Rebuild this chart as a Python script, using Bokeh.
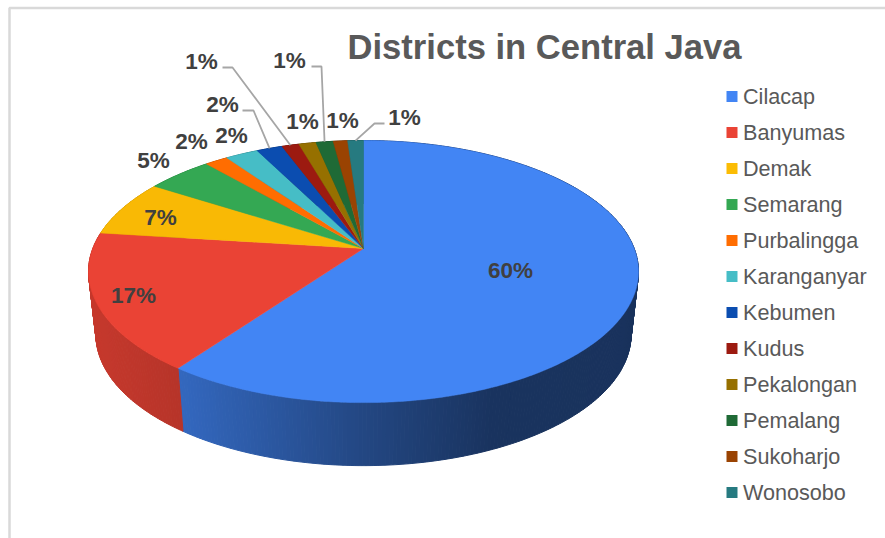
import numpy as np
from bokeh.core.properties import value
from bokeh.embed import file_html
from bokeh.models import Range1d
from bokeh.plotting import figure
from bokeh.resources import INLINE

TITLE = "Districts in Central Java"
districts = ["Cilacap", "Banyumas", "Demak", "Semarang", "Purbalingga", "Karanganyar",
             "Kebumen", "Kudus", "Pekalongan", "Pemalang", "Sukoharjo", "Wonosobo"]
shares = [60, 17, 7, 4.6, 1.6, 2.3, 1.8, 1.2, 1.2, 1.2, 1.0, 1.1]
colors = ["#4285f4", "#ea4335", "#f9b905", "#34a853", "#ff6d01", "#46bdc6",
          "#0b4db0", "#9c1a10", "#967000", "#1f6a36", "#9a4302", "#267a80"]
legend_colors = ["#4285f4", "#ea4335", "#fbbc04", "#34a853", "#ff6d01", "#46bdc6",
                 "#0b4db0", "#9c1a10", "#967000", "#1f6a36", "#9a4302", "#267a80"]

# Projection of the tilted disc: perspective foreshortening pulls the hub above the ellipse centre.
CX, HUB_Y, A, B, K = 363.0, 248.0, 270.7, 127.0, 0.176
DEPTH, WALL_SX = 63.0, 0.973
FONT = value("Liberation Sans")


def project(theta, radius=1.0, sx=1.0, dy=0.0):
    """Map a clockwise-from-north disc angle to page pixels."""
    u, v = radius * np.sin(theta), radius * np.cos(theta)
    w = 1 + K * v
    return CX + sx * A * u / w, HUB_Y + dy - B * v / w


def shade(color, x):
    """Darken a slice colour for its side wall according to horizontal position."""
    f = np.interp(x, [90, 183, 360, 490, 640], [0.85, 0.78, 0.54, 0.39, 0.38])
    rgb = [int(color[i:i + 2], 16) for i in (1, 3, 5)]
    return "#%02x%02x%02x" % tuple(int(c * f) for c in rgb)


fractions = np.array(shares) / sum(shares)
edges = np.concatenate([[0], np.cumsum(fractions)]) * 2 * np.pi
mids = (edges[:-1] + edges[1:]) / 2

p = figure(width=885, height=538, x_range=Range1d(0, 885), y_range=Range1d(538, 0),
           toolbar_location=None, output_backend="svg", min_border=0,
           outline_line_color=None, background_fill_color="white", border_fill_color="white")
p.axis.visible = False
p.grid.visible = False

# Frame edges along the top and the left of the chart area
p.line([9, 9, 885], [538, 7.5, 7.5], line_color="#d9d9d9", line_width=2.5)

# Side wall: narrow strips, shaded across the width, drawn before the top face
wall_xs, wall_ys, wall_cols = [], [], []
for i, col in enumerate(colors):
    lo, hi = edges[i], edges[i + 1]
    n = max(2, int((hi - lo) / 0.012))
    t = np.linspace(lo, hi, n + 1)
    for a, b in zip(t[:-1], t[1:]):
        xa, ya = project(a)
        xb, yb = project(b)
        xc, yc = project(b, sx=WALL_SX, dy=DEPTH)
        xd, yd = project(a, sx=WALL_SX, dy=DEPTH)
        wall_xs.append([xa, xb, xc, xd])
        wall_ys.append([ya, yb, yc, yd])
        wall_cols.append(shade(col, (xa + xb + xc + xd) / 4))
p.patches(wall_xs, wall_ys, fill_color=wall_cols, line_color=wall_cols, line_width=1)

# Top face of each slice
face_xs, face_ys = [], []
for i in range(len(shares)):
    t = np.linspace(edges[i], edges[i + 1], max(3, int((edges[i + 1] - edges[i]) / 0.01)))
    x, y = project(t)
    face_xs.append([CX] + list(x))
    face_ys.append([HUB_Y] + list(y))
p.patches(face_xs, face_ys, fill_color=colors, line_color=colors, line_width=0.5)

# Leader lines run from a slice rim through an elbow beside the label
leader_slices = [7, 6, 9, 11]
leader_elbows = [[(222, 67), (232, 67)], [(242, 110), (253, 110)],
                 [(311, 66), (321, 66)], [(384, 123), (374, 123)]]
for idx, elbow in zip(leader_slices, leader_elbows):
    rx, ry = project(mids[idx])
    p.line([elbow[0][0], elbow[1][0], rx], [elbow[0][1], elbow[1][1], ry],
           line_color="#a6a6a6", line_width=1.8)

# Percentage labels
label_x = [510, 133, 160, 153, 191, 231, 222, 201, 302, 289, 342, 404]
label_y = [270, 295, 217, 160, 141, 135, 104, 61, 121, 60, 120, 117]
label_text = [f"{round(s)}%" for s in shares]
p.text(label_x, label_y, text=label_text, text_font_size="22.5px", text_font_style="bold",
       text_font=FONT, text_color="#404040",
       text_align="center", text_baseline="middle")

# Title
p.text([544], [46], text=[TITLE], text_font_size="34.6px", text_font_style="bold",
       text_font=FONT, text_color="#595959",
       text_align="center", text_baseline="middle")

# Legend column
legend_y = [96 + 36 * i for i in range(len(districts))]
p.rect([731.5] * len(districts), legend_y, width=11, height=11,
       fill_color=legend_colors, line_color=None)
p.text([742.5] * len(districts), [y - 0.5 for y in legend_y], text=districts, text_font_size="21.6px",
       text_font=FONT, text_color="#595959",
       text_align="left", text_baseline="middle")

open("out.html", "w").write(file_html(p, INLINE))
